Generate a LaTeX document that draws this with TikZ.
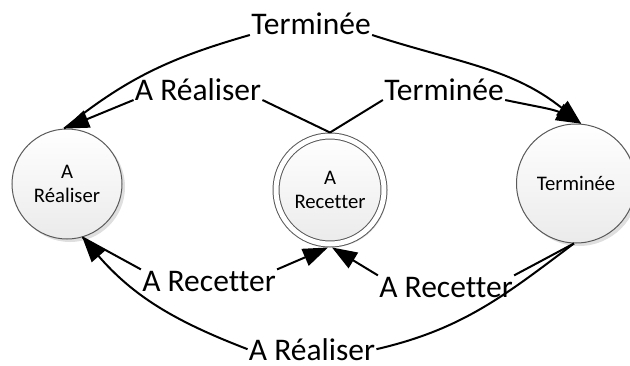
\documentclass[tikz,border=0pt]{standalone}
\usepackage{fontspec}
\setmainfont{Carlito}[Ligatures={NoCommon}]
\usetikzlibrary{arrows.meta,shadows}
\tikzset{>={Triangle[length=12.5pt,width=9pt]}}
\tikzset{
 etat/.style={circle, draw=black!65, line width=0.5pt, top color=white, bottom color=black!8,
   drop shadow={opacity=0.25,shadow xshift=1.5pt,shadow yshift=-1.5pt},
   align=center, inner sep=0pt, font=\fontsize{10.35}{12}\selectfont},
 lbl/.style={anchor=base, inner sep=0.5pt, font=\fontsize{15.75}{18}\selectfont},
 trans/.style={line width=1pt}
}

\begin{document}
\begin{tikzpicture}[x=0.5pt,y=0.5pt]
\useasboundingbox (0,0) rectangle (630,365);

\node[etat, minimum size=55pt] (realiser) at (67,181) {A\\Réaliser};
\node[etat, minimum size=54pt, double=white, double distance=2.5pt, outer sep=1.75pt] (recetter) at (330,175) {A\\Recetter};
\node[etat, minimum size=59.5pt] (terminee) at (576,181.5) {Terminée};

\node[lbl] (lblTop) at (311,330) {Terminée};
\node[lbl] (lblRea) at (198,265) {A Réaliser};
\node[lbl] (lblTer) at (444,265) {Terminée};
\node[lbl] (lblRec1) at (209,74) {A Recetter};
\node[lbl] (lblRec2) at (446,68) {A Recetter};
\node[lbl] (lblBot) at (312,5) {A Réaliser};

\draw[trans] (realiser.93) to[out=39,in=196] (lblTop.base west);
\draw[trans,->] (lblTop.base east) to[out=-18,in=141] (terminee.85);
\draw[trans] (recetter.north) -- (lblRea.base east);
\draw[trans,->] (lblRea.base west) -- (realiser.93);
\draw[trans] (recetter.north) -- (lblTer.base west);
\draw[trans,->] (lblTer.base east) to[out=-12,in=152] (terminee.85);
\draw[trans] (realiser.-74) -- (lblRec1.north west);
\draw[trans,->] (lblRec1.north east) -- (recetter.-92);
\draw[trans] (terminee.-92) -- (lblRec2.north east);
\draw[trans,->] (lblRec2.north west) -- (recetter.-88);
\draw[trans] (terminee.-92) to[out=-143,in=13] (lblBot.east);
\draw[trans,->] (lblBot.west) to[out=159,in=-49] (realiser.-74);

\end{tikzpicture}
\end{document}
